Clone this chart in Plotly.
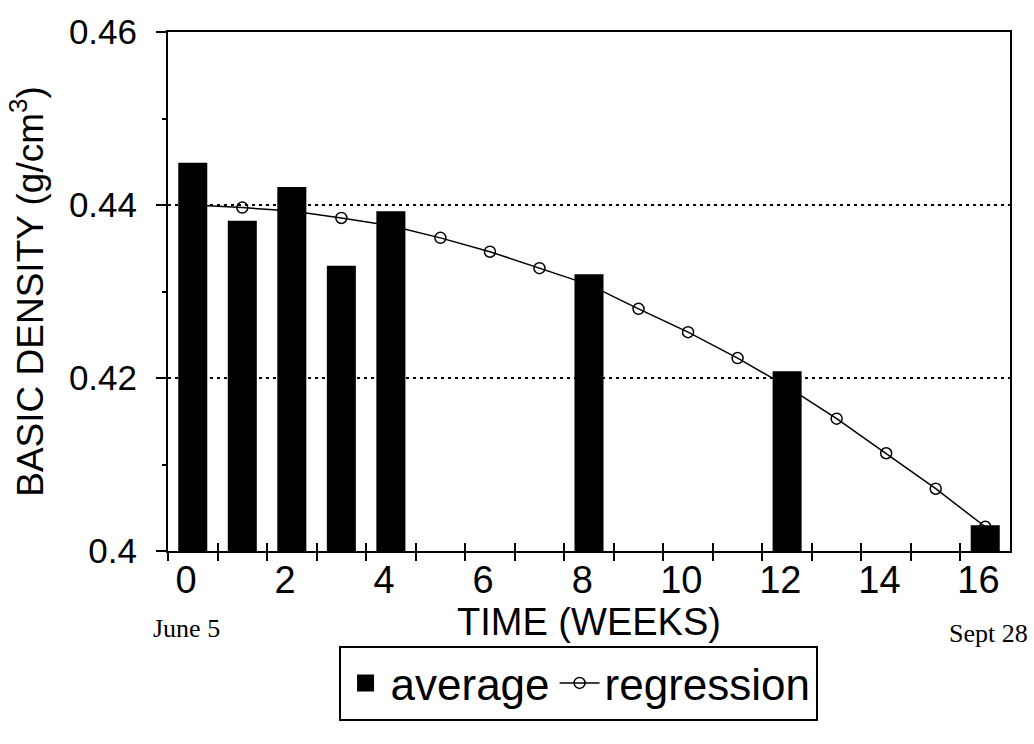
import plotly.graph_objects as go

# ---- data ----
bar_weeks = [0, 1, 2, 3, 4, 8, 12, 16]
bar_density = [0.4446, 0.4379, 0.4418, 0.4327, 0.4390, 0.4317, 0.4205, 0.4027]

reg_weeks = list(range(17))
reg_density = [0.4400, 0.4397, 0.4393, 0.4385, 0.4376, 0.4362, 0.4346, 0.4327,
               0.4308, 0.4280, 0.4253, 0.4223, 0.4190, 0.4153, 0.4113, 0.4072, 0.4028]

label_weeks = [0, 2, 4, 6, 8, 10, 12, 14, 16]
minor_weeks = [1, 3, 5, 7, 9, 11, 13, 15]
y_ticks = [0.40, 0.42, 0.44, 0.46]
y_tick_labels = ["0.4", "0.42", "0.44", "0.46"]
y_minor = [0.41, 0.43, 0.45]

SANS = "Arial, Liberation Sans, sans-serif"
SERIF = "Times New Roman, Liberation Serif, serif"

fig = go.Figure()
fig.add_trace(go.Scatter(
    x=reg_weeks, y=reg_density, mode="lines+markers", name="regression",
    line=dict(color="black", width=1.5),
    marker=dict(symbol="circle-open", size=11, color="black", line=dict(width=1.5)),
    xaxis="x", yaxis="y", legendrank=2))
fig.add_trace(go.Bar(
    x=bar_weeks, y=bar_density, name="average", width=0.485,
    marker=dict(color="black", line=dict(color="black", width=5)),
    xaxis="x2", yaxis="y", legendrank=1))

# tick marks sit on the boundaries between weeks (category-style axis)
label_pos = [w - 0.5 for w in label_weeks]
minor_pos = [w - 0.5 for w in minor_weeks]
all_pos = sorted(label_pos + minor_pos)

fig.update_layout(
    width=1034, height=744,
    margin=dict(l=168, r=24, t=26, b=193),
    paper_bgcolor="white", plot_bgcolor="white",
    font=dict(family=SANS, color="black"),
    showlegend=True,
    xaxis=dict(range=[-0.5, 16.5], tickvals=label_pos, ticktext=[str(w) for w in label_weeks],
               ticks="outside", ticklen=8, tickwidth=1.5, tickcolor="black",
               minor=dict(tickvals=minor_pos, ticks="outside", ticklen=8, tickwidth=1.5,
                          tickcolor="black", showgrid=False),
               showgrid=False, zeroline=False,
               showline=True, linecolor="black", linewidth=2, mirror=True,
               tickfont=dict(size=38, family=SANS), ticklabelshift=18, ticklabelstandoff=-14,
               title=dict(text="TIME (WEEKS)", font=dict(size=38, family=SANS), standoff=8)),
    xaxis2=dict(range=[-0.5, 16.5], tickvals=all_pos, overlaying="x", anchor="y", side="bottom",
                ticks="inside", ticklen=8, tickwidth=1.5, tickcolor="black",
                showticklabels=False, showline=False, showgrid=False, zeroline=False),
    yaxis=dict(range=[0.40, 0.46], tickvals=y_ticks, ticktext=y_tick_labels,
               ticks="outside", ticklen=10, tickwidth=1.5, tickcolor="black",
               showline=True, linecolor="black", linewidth=2, mirror=True,
               showgrid=True, gridcolor="black", gridwidth=1.5, griddash="3px,4px",
               zeroline=False, tickfont=dict(size=35, family=SANS), ticklabelstandoff=12,
               minor=dict(tickvals=y_minor, ticks="outside", ticklen=4, tickwidth=1.5,
                          tickcolor="black", showgrid=False),
               title=dict(text="BASIC DENSITY (g/cm<sup>3</sup>)", font=dict(size=37, family=SANS),
                          standoff=14)),
    legend=dict(orientation="h", x=0.487, y=-0.255, xanchor="center", yanchor="middle",
                bordercolor="black", borderwidth=2, bgcolor="white", itemwidth=40,
                font=dict(size=44, family=SANS)),
    annotations=[
        dict(text="June 5", xref="paper", yref="paper", x=0.0214, y=-0.1486,
             showarrow=False, font=dict(family=SERIF, size=26), xanchor="center", yanchor="middle"),
        dict(text="Sept 28", xref="paper", yref="paper", x=0.974, y=-0.158,
             showarrow=False, font=dict(family=SERIF, size=26), xanchor="center", yanchor="middle"),
    ],
)

fig.write_html("out.html")
